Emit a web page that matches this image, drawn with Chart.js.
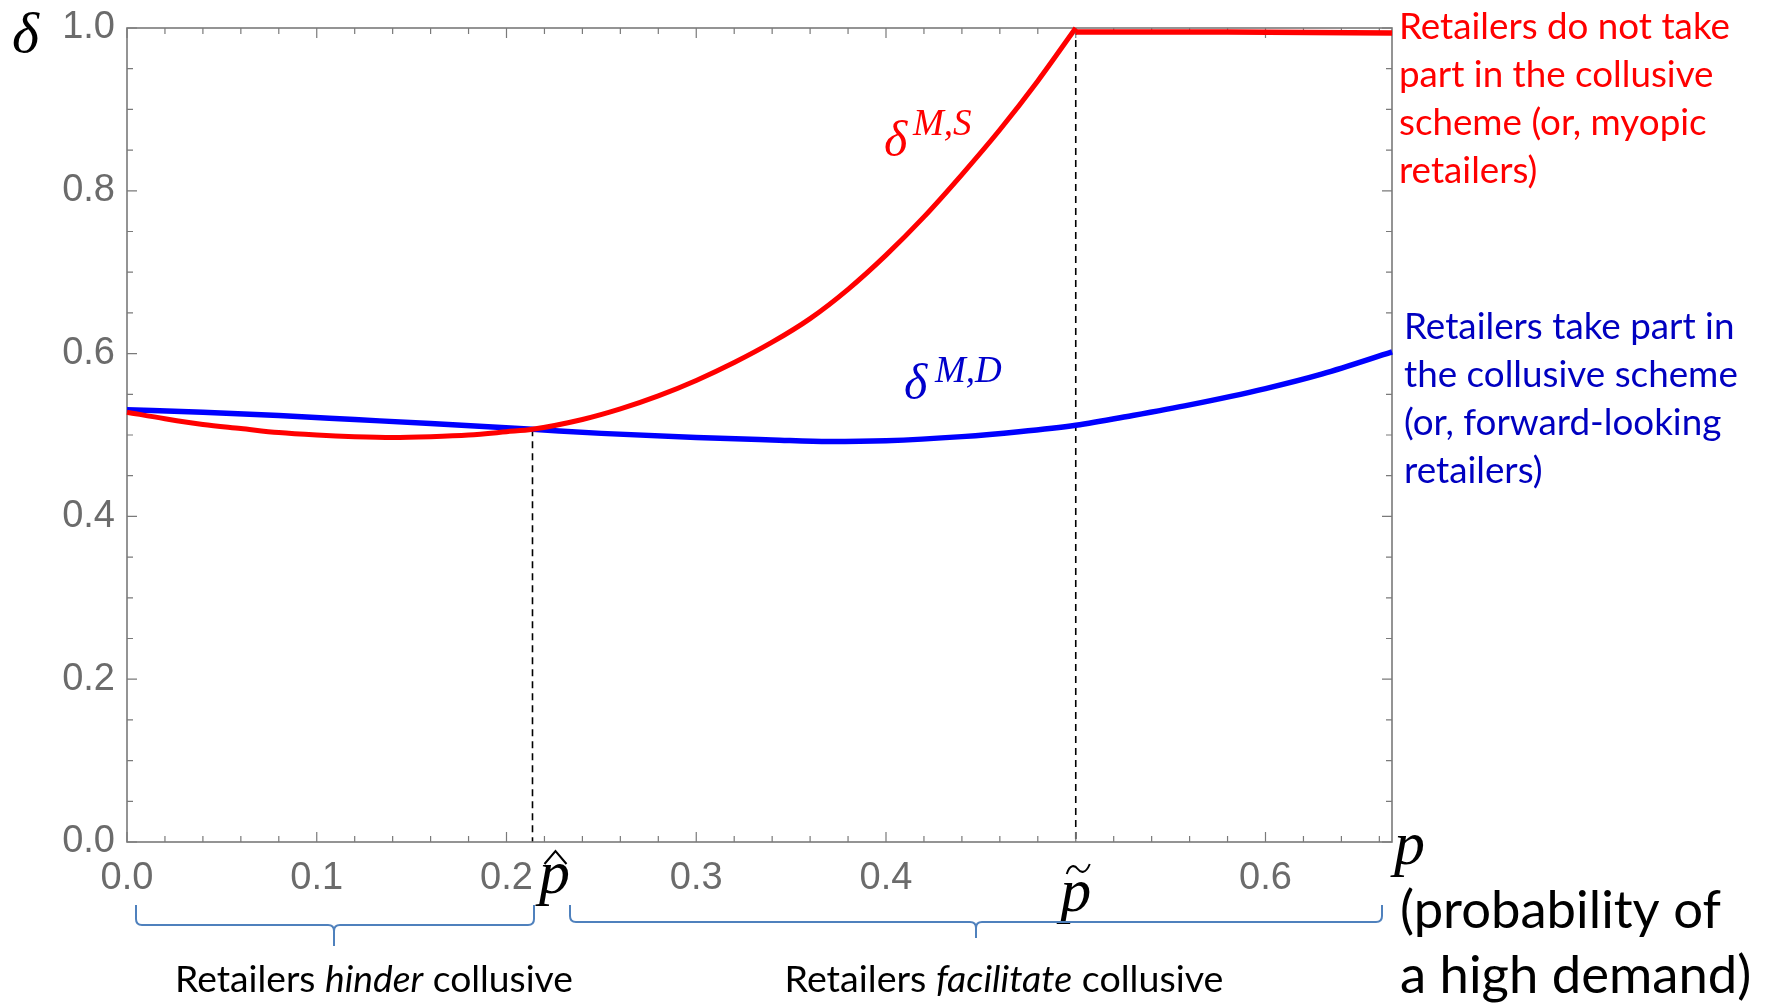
<!DOCTYPE html>
<html>
<head>
<meta charset="utf-8">
<script src="https://cdn.jsdelivr.net/npm/chart.js@4.4.1/dist/chart.umd.min.js"></script>
<style>
  html, body { margin: 0; padding: 0; background: #fff; }
  #wrap { width: 1767px; height: 1003px; position: relative; }
</style>
</head>
<body>
<div id="wrap"><canvas id="deltaChart"></canvas></div>
<script>
// probability of a high demand (x) and critical discount factors (y)
const pRed = [0, 0.02, 0.04, 0.06, 0.08, 0.10, 0.12, 0.14, 0.16, 0.18, 0.20, 0.2137,
  0.24, 0.26, 0.28, 0.30, 0.32, 0.34, 0.36, 0.38, 0.40, 0.42, 0.44, 0.46, 0.48, 0.50];
const deltaMS = [0.528, 0.520, 0.513, 0.508, 0.503, 0.500, 0.498, 0.497, 0.498, 0.500, 0.504, 0.507,
  0.519, 0.532, 0.548, 0.567, 0.589, 0.614, 0.643, 0.679, 0.721, 0.768, 0.820, 0.875, 0.935, 1.0];
// flat part: retailers do not take part
const pRedFlat = [0.50, 0.58, 0.6667];
const deltaMSFlat = [0.995, 0.995, 0.994];

const pBlue = [0, 0.04, 0.08, 0.12, 0.16, 0.2137, 0.25, 0.30, 0.34, 0.37, 0.40, 0.44, 0.47,
  0.50, 0.53, 0.56, 0.60, 0.63, 0.6667];
const deltaMD = [0.531, 0.528, 0.524, 0.519, 0.514, 0.507, 0.502, 0.497, 0.494, 0.492, 0.493, 0.498, 0.504,
  0.512, 0.524, 0.537, 0.557, 0.575, 0.602];

const xTicks = [0, 0.1, 0.2, 0.3, 0.4, 0.6];
const xTickLabels = ['0.0', '0.1', '0.2', '0.3', '0.4', '0.6'];
const yTicks = [0, 0.2, 0.4, 0.6, 0.8, 1.0];
const yTickLabels = ['0.0', '0.2', '0.4', '0.6', '0.8', '1.0'];

const pHat = 0.2137;
const deltaHat = 0.507;
const pTilde = 0.5;

const redText = ['Retailers do not take', 'part in the collusive', 'scheme (or, myopic', 'retailers)'];
const blueText = ['Retailers take part in', 'the collusive scheme', '(or, forward-looking', 'retailers)'];
const axisText = ['(probability of', 'a high demand)'];

const GRAY = '#6b6b6b';
const TEXT_FONT = 'Lato, "Open Sans", sans-serif';
const MATH_FONT = '"Liberation Serif", "DejaVu Serif", serif';

function fitSize(ctx, parts, target) {
  // parts: [[text, style], ...]
  let w = 0;
  parts.forEach(([t, st]) => { ctx.font = `${st} 100px ${TEXT_FONT}`; w += ctx.measureText(t).width; });
  return 100 * target / w;
}

function drawMixed(ctx, parts, size, cx, y, color) {
  let w = 0;
  parts.forEach(([t, st]) => { ctx.font = `${st} ${size}px ${TEXT_FONT}`; w += ctx.measureText(t).width; });
  let x = cx - w / 2;
  ctx.fillStyle = color;
  ctx.textAlign = 'left';
  parts.forEach(([t, st]) => {
    ctx.font = `${st} ${size}px ${TEXT_FONT}`;
    ctx.fillText(t, x, y);
    x += ctx.measureText(t).width;
  });
}

function drawBrace(ctx, x1, x2, yTop, yLine, xTip, yTip) {
  const r = 6;
  ctx.beginPath();
  ctx.moveTo(x1, yTop);
  ctx.lineTo(x1, yLine - r);
  ctx.quadraticCurveTo(x1, yLine, x1 + r, yLine);
  ctx.lineTo(xTip - r, yLine);
  ctx.quadraticCurveTo(xTip, yLine, xTip, yLine + r);
  ctx.lineTo(xTip, yTip);
  ctx.moveTo(xTip, yLine + r);
  ctx.quadraticCurveTo(xTip, yLine, xTip + r, yLine);
  ctx.lineTo(x2 - r, yLine);
  ctx.quadraticCurveTo(x2, yLine, x2, yLine - r);
  ctx.lineTo(x2, yTop);
  ctx.stroke();
}

const framePlugin = {
  id: 'frame',
  beforeDatasetsDraw(chart) {
    const ctx = chart.ctx;
    const { left, right, top, bottom } = chart.chartArea;
    const xs = chart.scales.x, ys = chart.scales.y;
    ctx.save();

    // dashed guide lines at p-hat and p-tilde
    ctx.strokeStyle = '#000';
    ctx.lineWidth = 1.6;
    ctx.setLineDash([7, 5]);
    ctx.beginPath();
    ctx.moveTo(xs.getPixelForValue(pHat), ys.getPixelForValue(deltaHat));
    ctx.lineTo(xs.getPixelForValue(pHat), bottom);
    ctx.moveTo(xs.getPixelForValue(pTilde), top);
    ctx.lineTo(xs.getPixelForValue(pTilde), bottom);
    ctx.stroke();
    ctx.setLineDash([]);

    // frame
    ctx.strokeStyle = '#7a7a7a';
    ctx.lineWidth = 1.6;
    ctx.strokeRect(left, top, right - left, bottom - top);

    // inward ticks on all four sides
    ctx.lineWidth = 1.2;
    ctx.beginPath();
    for (let i = 0; i <= 33; i++) {
      const v = i * 0.02;
      const x = xs.getPixelForValue(v);
      const len = (i % 5 === 0) ? 10 : 6;
      ctx.moveTo(x, bottom); ctx.lineTo(x, bottom - len);
      ctx.moveTo(x, top); ctx.lineTo(x, top + len);
    }
    for (let i = 0; i <= 20; i++) {
      const v = i * 0.05;
      const y = ys.getPixelForValue(v);
      const len = (i % 4 === 0) ? 10 : 6;
      ctx.moveTo(left, y); ctx.lineTo(left + len, y);
      ctx.moveTo(right, y); ctx.lineTo(right - len, y);
    }
    ctx.stroke();
    ctx.restore();
  },
  afterDraw(chart) {
    const ctx = chart.ctx;
    const { left, right, top, bottom } = chart.chartArea;
    const xs = chart.scales.x, ys = chart.scales.y;
    ctx.save();

    // tick labels
    ctx.fillStyle = GRAY;
    ctx.font = '38px "Liberation Sans", Arial, sans-serif';
    ctx.textAlign = 'center';
    ctx.textBaseline = 'alphabetic';
    xTicks.forEach((v, i) => ctx.fillText(xTickLabels[i], xs.getPixelForValue(v), bottom + 47));
    ctx.textAlign = 'right';
    ctx.textBaseline = 'middle';
    yTicks.forEach((v, i) => ctx.fillText(yTickLabels[i], left - 12, ys.getPixelForValue(v)));

    // math labels
    ctx.textBaseline = 'alphabetic';
    ctx.textAlign = 'left';
    ctx.fillStyle = '#000';
    ctx.font = `italic 58px ${MATH_FONT}`;
    ctx.fillText('δ', 12, 52);
    ctx.font = `italic 62px ${MATH_FONT}`;
    ctx.fillText('p', right + 2, 864);

    // p-hat
    const xh = xs.getPixelForValue(pHat) + 22;
    ctx.font = `italic 62px ${MATH_FONT}`;
    ctx.textAlign = 'center';
    ctx.fillText('p', xh, 893);
    ctx.strokeStyle = '#000';
    ctx.lineWidth = 2;
    ctx.beginPath();
    ctx.moveTo(xh - 10, 864); ctx.lineTo(xh + 1, 851); ctx.lineTo(xh + 12, 864);
    ctx.stroke();

    // p-tilde
    const xt = xs.getPixelForValue(pTilde);
    ctx.fillText('p', xt, 911);
    ctx.beginPath();
    ctx.moveTo(xt - 9, 874);
    ctx.bezierCurveTo(xt - 6, 864, xt - 1, 865, xt + 2, 869);
    ctx.bezierCurveTo(xt + 5, 873, xt + 10, 874, xt + 14, 864);
    ctx.stroke();

    // curve names
    ctx.textAlign = 'left';
    ctx.fillStyle = '#ff0000';
    ctx.font = `italic 50px ${MATH_FONT}`;
    ctx.fillText('δ', 884, 156);
    ctx.font = `italic 37px ${MATH_FONT}`;
    ctx.fillText('M,S', 913, 135);
    ctx.fillStyle = '#0000cc';
    ctx.font = `italic 50px ${MATH_FONT}`;
    ctx.fillText('δ', 904, 399);
    ctx.font = `italic 37px ${MATH_FONT}`;
    ctx.fillText('M,D', 935, 382);

    // right-hand notes
    let size = fitSize(ctx, [[redText[0], 'normal']], 331);
    ctx.font = `${size}px ${TEXT_FONT}`;
    ctx.fillStyle = '#ff0000';
    redText.forEach((t, i) => ctx.fillText(t, 1399, 39 + i * 48));

    size = fitSize(ctx, [[blueText[1], 'normal']], 334);
    ctx.font = `${size}px ${TEXT_FONT}`;
    ctx.fillStyle = '#0000c0';
    blueText.forEach((t, i) => ctx.fillText(t, 1404, 339 + i * 48));

    size = fitSize(ctx, [[axisText[0], 'normal']], 321);
    ctx.font = `${size}px ${TEXT_FONT}`;
    ctx.fillStyle = '#000';
    axisText.forEach((t, i) => ctx.fillText(t, 1400, 928 + i * 65));

    // braces below the axis
    ctx.strokeStyle = '#4f81bd';
    ctx.lineWidth = 2;
    drawBrace(ctx, 136, 534, 905, 925, 334, 946);
    drawBrace(ctx, 570, 1382, 905, 922, 976, 938);

    const hinder = [['Retailers ', 'normal'], ['hinder', 'italic'], [' collusive', 'normal']];
    const facil = [['Retailers ', 'normal'], ['facilitate', 'italic'], [' collusive', 'normal']];
    drawMixed(ctx, hinder, fitSize(ctx, hinder, 398), 374, 992, '#000');
    drawMixed(ctx, facil, fitSize(ctx, facil, 439), 1004, 992, '#000');

    ctx.restore();
  }
};

const ctx = document.getElementById('deltaChart').getContext('2d');
new Chart(ctx, {
  type: 'line',
  data: {
    datasets: [
      {
        label: 'δ^{M,S}',
        data: pRed.map((p, i) => ({ x: p, y: deltaMS[i] })),
        borderColor: '#ff0000',
        borderWidth: 5,
        pointRadius: 0,
        cubicInterpolationMode: 'monotone',
        clip: false,
      },
      {
        label: 'δ^{M,S} (flat)',
        data: pRedFlat.map((p, i) => ({ x: p, y: deltaMSFlat[i] })),
        borderColor: '#ff0000',
        borderWidth: 5.5,
        pointRadius: 0,
        clip: false,
      },
      {
        label: 'δ^{M,D}',
        data: pBlue.map((p, i) => ({ x: p, y: deltaMD[i] })),
        borderColor: '#0000ff',
        borderWidth: 5.5,
        pointRadius: 0,
        cubicInterpolationMode: 'monotone',
        clip: false,
      }
    ]
  },
  options: {
    responsive: true,
    maintainAspectRatio: false,
    animation: false,
    layout: { padding: { left: 127, right: 375, top: 28, bottom: 161 } },
    scales: {
      x: { type: 'linear', min: 0, max: 2 / 3, display: false },
      y: { type: 'linear', min: 0, max: 1, display: false }
    },
    plugins: {
      legend: { display: false },
      tooltip: { enabled: false }
    }
  },
  plugins: [framePlugin]
});
</script>
</body>
</html>
